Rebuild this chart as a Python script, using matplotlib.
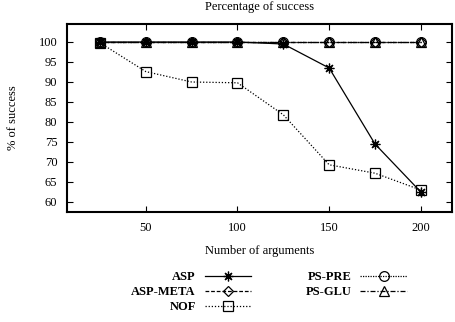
import matplotlib
matplotlib.use("Agg")
import matplotlib.pyplot as plt

plt.rcParams['font.family'] = ['Liberation Serif', 'DejaVu Serif']
plt.rcParams['mathtext.fontset'] = 'stix'

args = [25, 50, 75, 100, 125, 150, 175, 200]
asp = [100, 100, 100, 100, 99.5, 93.5, 74.5, 62.5]
asp_meta = [100, 100, 100, 100, 100, 100, 100, 100]
nof = [99.8, 92.6, 90.0, 89.8, 81.8, 69.3, 67.2, 63.0]
ps_pre = [100, 100, 100, 100, 100, 100, 100, 100]
ps_glu = [100, 100, 100, 100, 100, 100, 100, 100]
series_names = ["ASP", "ASP-META", "NOF", "PS-PRE", "PS-GLU"]
x_ticks = [50, 100, 150, 200]
y_ticks = [60, 65, 70, 75, 80, 85, 90, 95, 100]

W, H = 456, 322
fig = plt.figure(figsize=(W / 100, H / 100), dpi=100)
ax = fig.add_axes([67 / W, 1 - 212 / H, (452 - 67) / W, (212 - 24) / H])

fs = 9
ms = 7
lw = 0.9
styles = [
    dict(ls='-', marker=(8, 2, 0), mfc='none'),
    dict(ls=(0, (3, 1.5)), marker='D', mfc='none', markersize=ms - 1.5),
    dict(ls=(0, (1, 1.5)), marker='s', mfc='none'),
    dict(ls=(0, (1, 1)), marker='o', mfc='none'),
    dict(ls=(0, (4, 1.5, 1, 1.5)), marker='^', mfc='none'),
]
data = [asp, asp_meta, nof, ps_pre, ps_glu]
handles = []
for name, y, st in zip(series_names, data, styles):
    kw = dict(color='black', lw=lw, markersize=ms, mew=0.9, mec='black')
    kw.update(st)
    h, = ax.plot(args, y, label=name, **kw)
    handles.append(h)

ax.set_xlim(7, 217)
ax.set_ylim(57.5, 104.5)
ax.set_xticks(x_ticks)
ax.set_yticks(y_ticks)
ax.tick_params(direction='in', length=4, width=0.8, top=True, right=True,
               labelsize=fs, pad=7)
for s in ax.spines.values():
    s.set_linewidth(1.5)

ax.set_xlabel("Number of arguments", fontsize=fs, labelpad=8)
ax.set_ylabel("% of success", fontsize=fs, labelpad=14)
fig.text(259.5 / W, 1 - 1 / H, "Percentage of success", fontsize=fs,
         ha='center', va='top')

leg = fig.legend(handles, series_names, ncol=2, markerfirst=False,
                 loc='center', bbox_to_anchor=(269 / W, 1 - 292 / H),
                 frameon=False, prop={'weight': 'bold', 'size': fs},
                 handlelength=3.7, handletextpad=0.7, columnspacing=4.4,
                 labelspacing=0.25, borderpad=0)

fig.savefig("out.png", dpi=100)
